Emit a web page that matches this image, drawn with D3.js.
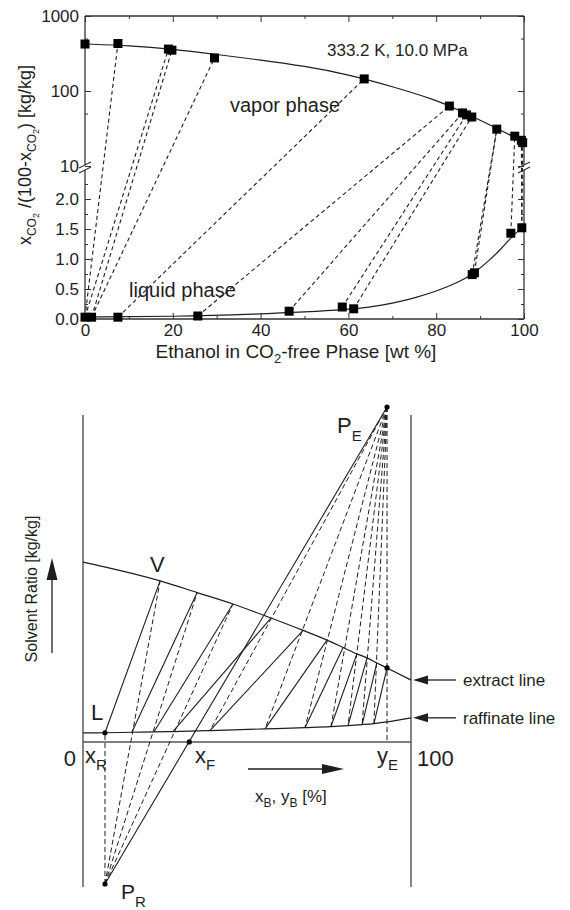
<!DOCTYPE html>
<html>
<head>
<meta charset="utf-8">
<script src="https://cdn.jsdelivr.net/npm/d3@7/dist/d3.min.js"></script>
<style>
body { margin: 0; background: #fff; }
svg { display: block; font-family: "Liberation Sans", Arial, sans-serif; }
</style>
</head>
<body>
<div id="chart"></div>
<script>
const width = 570;
const height = 910;

// ---------- top chart: 333.2 K, 10.0 MPa ----------
// measured points, ethanol wt% (CO2-free) vs x_CO2/(100-x_CO2)
const vaporX = [0, 7.5, 19.0, 19.8, 29.5, 63.6, 83.0, 86.0, 86.9, 88.1, 93.8, 97.9, 99.4, 99.7];
const vaporY = [423, 430, 362, 350, 276, 145, 63, 51, 48, 45, 31, 25, 22, 20.5];
const liquidX = [0, 1.5, 7.5, 25.7, 46.5, 58.6, 61.2, 88.2, 88.7, 97.0, 99.5];
const liquidY = [0.03, 0.03, 0.03, 0.05, 0.13, 0.20, 0.17, 0.74, 0.77, 1.43, 1.52];
// tie lines: liquid index -> vapor index
const tieLiq = [0, 0, 1, 1, 2, 3, 4, 5, 6, 7, 8, 9, 10, 10];
const tieVap = [1, 2, 3, 4, 5, 6, 7, 8, 9, 10, 10, 11, 12, 13];
// fitted phase boundaries
const vapCurveX = [0, 10, 20, 30, 40, 50, 60, 70, 80, 85, 90, 95, 100];
const vapCurveY = [423, 404, 363, 307, 259, 215, 166, 115, 76, 56, 41, 29.3, 20.9];
const liqCurveX = [0, 20, 40, 50, 60, 65, 70, 75, 80, 85, 88.4, 92, 95, 97, 100];
const liqCurveY = [0.033, 0.04, 0.083, 0.115, 0.16, 0.2, 0.26, 0.35, 0.46, 0.61, 0.75, 0.97, 1.18, 1.36, 1.55];

const xTicks = [0, 20, 40, 60, 80, 100];
const xMinor = [10, 30, 50, 70, 90];
const yLinTicks = [0, 0.5, 1.0, 1.5, 2.0];
const yLinMinor = [0.25, 0.75, 1.25, 1.75, 2.25];
const yLogTicks = [10, 100, 1000];
const yLogMinor = [50, 500];

// ---------- bottom chart: stage construction (schematic) ----------
const extractX = [0, 23.5, 34.8, 45.7, 57.3, 67.1, 74.4, 79.3, 83.5, 86.6, 89.6, 92.7, 100];
const extractY = [53.7, 48.1, 44.6, 41.2, 37.0, 33.3, 30.4, 28.2, 26.3, 25.1, 23.6, 22.1, 18.5];
const raffX = [0, 6.7, 14.9, 21.6, 27.4, 38.7, 55.5, 67.7, 75.6, 80.8, 85.1, 88.7, 100];
const raffY = [2.7, 2.75, 2.9, 3.0, 3.1, 3.4, 3.9, 4.3, 4.6, 4.9, 5.2, 5.5, 7.2];
const poleX = [6.7, 92.7];     // P_R, P_E
const poleY = [-42.4, 100];
const feedX = 32.4;
const tieIdx = [1, 2, 3, 4, 5, 6, 7, 8, 9, 10, 11];
const stripIdx = [1, 2, 3];            // P_R -> extract point
const enrichIdx = [5, 6, 7, 8, 9, 10, 11]; // P_E -> raffinate point

const svg = d3.select("#chart").append("svg").attr("width", width).attr("height", height);
svg.append("rect").attr("width", width).attr("height", height).attr("fill", "#fff");

const ink = "#1e1e1e";

// ===== top chart =====
const x1 = d3.scaleLinear().domain([0, 100]).range([85, 524]);
const yLog = d3.scaleLog().domain([10, 1000]).range([166, 16]);
const yLin = d3.scaleLinear().domain([0, 2.5]).range([319, 169]);
const y1 = v => v >= 10 ? yLog(v) : yLin(v);

const topG = svg.append("g");

function styleAxis(g, size) {
    g.select(".domain").remove();
    g.selectAll("line").attr("stroke", "#333").attr("stroke-width", 1);
    g.selectAll("text").attr("fill", ink).style("font-size", size + "px").style("font-family", "Liberation Sans, Arial, sans-serif");
}

topG.append("g").attr("transform", "translate(0,319)")
    .call(d3.axisBottom(x1).tickValues(xTicks).tickSize(-6).tickPadding(5))
    .call(g => styleAxis(g, 17));
topG.append("g").attr("transform", "translate(0,319)")
    .call(d3.axisBottom(x1).tickValues(xMinor).tickSize(-3).tickFormat(""))
    .call(g => styleAxis(g, 17));
topG.append("g").attr("transform", "translate(0,16)")
    .call(d3.axisTop(x1).tickValues(xTicks).tickSize(-6).tickFormat(""))
    .call(g => styleAxis(g, 17));
topG.append("g").attr("transform", "translate(0,16)")
    .call(d3.axisTop(x1).tickValues(xMinor).tickSize(-3).tickFormat(""))
    .call(g => styleAxis(g, 17));

[[d3.axisLeft, 85, true], [d3.axisRight, 524, false]].forEach(([ax, xp, lab]) => {
    topG.append("g").attr("transform", `translate(${xp},0)`)
        .call(ax(yLin).tickValues(yLinTicks).tickSize(-6).tickPadding(6).tickFormat(lab ? d3.format(".1f") : ""))
        .call(g => styleAxis(g, 17));
    topG.append("g").attr("transform", `translate(${xp},0)`)
        .call(ax(yLin).tickValues(yLinMinor).tickSize(-3).tickFormat(""))
        .call(g => styleAxis(g, 17));
    topG.append("g").attr("transform", `translate(${xp},0)`)
        .call(ax(yLog).tickValues(yLogTicks).tickSize(-6).tickPadding(6).tickFormat(lab ? d3.format("d") : ""))
        .call(g => styleAxis(g, 17));
    topG.append("g").attr("transform", `translate(${xp},0)`)
        .call(ax(yLog).tickValues(yLogMinor).tickSize(-3).tickFormat(""))
        .call(g => styleAxis(g, 17));
});

// frame with broken y axis
const frame = topG.append("g").attr("stroke", "#333").attr("stroke-width", 1.3).attr("fill", "none");
frame.append("line").attr("x1", 85).attr("x2", 524).attr("y1", 16).attr("y2", 16);
frame.append("line").attr("x1", 85).attr("x2", 524).attr("y1", 319).attr("y2", 319);
[85, 524].forEach(xp => {
    frame.append("line").attr("x1", xp).attr("x2", xp).attr("y1", 16).attr("y2", 165);
    frame.append("line").attr("x1", xp).attr("x2", xp).attr("y1", 170).attr("y2", 319);
    frame.append("line").attr("x1", xp - 6).attr("x2", xp + 6).attr("y1", 168).attr("y2", 162).attr("stroke-width", 1.1);
    frame.append("line").attr("x1", xp - 6).attr("x2", xp + 6).attr("y1", 173).attr("y2", 167).attr("stroke-width", 1.1);
});

// tie lines
topG.append("g").selectAll("line").data(tieLiq).join("line")
    .attr("x1", (d, i) => x1(liquidX[d])).attr("y1", (d, i) => y1(liquidY[d]))
    .attr("x2", (d, i) => x1(vaporX[tieVap[i]])).attr("y2", (d, i) => y1(vaporY[tieVap[i]]))
    .attr("stroke", ink).attr("stroke-width", 1.1).attr("stroke-dasharray", "4,3");

// phase boundaries
const lineTop = d3.line().x(d => x1(d[0])).y(d => y1(d[1])).curve(d3.curveBasis);
topG.append("path").attr("d", lineTop(d3.zip(vapCurveX, vapCurveY)))
    .attr("fill", "none").attr("stroke", ink).attr("stroke-width", 1.2);
topG.append("path").attr("d", lineTop(d3.zip(liqCurveX, liqCurveY)))
    .attr("fill", "none").attr("stroke", ink).attr("stroke-width", 1.2);

// markers
const sq = 9;
topG.append("g").selectAll("rect").data(d3.zip(vaporX, vaporY).concat(d3.zip(liquidX, liquidY))).join("rect")
    .attr("x", d => x1(d[0]) - sq / 2).attr("y", d => y1(d[1]) - sq / 2)
    .attr("width", sq).attr("height", sq).attr("fill", "#000");

// annotations
topG.append("text").attr("x", 327).attr("y", 56).text("333.2 K, 10.0 MPa")
    .attr("fill", ink).style("font-size", "17px");
topG.append("text").attr("x", 230).attr("y", 112).text("vapor phase")
    .attr("fill", ink).style("font-size", "20px");
topG.append("text").attr("x", 129).attr("y", 297).text("liquid phase")
    .attr("fill", ink).style("font-size", "20px");

// axis titles
const xt = topG.append("text").attr("x", 296).attr("y", 358).attr("text-anchor", "middle")
    .attr("fill", ink).style("font-size", "19px");
xt.append("tspan").text("Ethanol in CO");
xt.append("tspan").text("2").attr("dy", 5).style("font-size", "13px");
xt.append("tspan").text("-free Phase [wt %]").attr("dy", -5);

const yt = topG.append("text").attr("transform", "translate(31,155) rotate(-90)")
    .attr("text-anchor", "middle").attr("fill", ink).style("font-size", "18px");
yt.append("tspan").text("x");
yt.append("tspan").text("CO").attr("dy", 5).style("font-size", "12px");
yt.append("tspan").text("2").attr("dy", 3).style("font-size", "9px");
yt.append("tspan").text(" /(100-x").attr("dy", -8);
yt.append("tspan").text("CO").attr("dy", 5).style("font-size", "12px");
yt.append("tspan").text("2").attr("dy", 3).style("font-size", "9px");
yt.append("tspan").text(")  [kg/kg]").attr("dy", -8);

// ===== bottom chart =====
const x2 = d3.scaleLinear().domain([0, 100]).range([83, 411]);
const y2 = d3.scaleLinear().domain([-43, 100]).range([886, 407]);
const bot = svg.append("g");

// side lines and composition axis
bot.append("g").selectAll("line").data([0, 100]).join("line")
    .attr("x1", d => x2(d)).attr("x2", d => x2(d)).attr("y1", y2(97.6)).attr("y2", y2(-43.3))
    .attr("stroke", "#666").attr("stroke-width", 1.6);
bot.append("line").attr("x1", x2(0)).attr("x2", x2(100)).attr("y1", y2(0)).attr("y2", y2(0))
    .attr("stroke", "#555").attr("stroke-width", 1.4);

const lineBot = d3.line().x(d => x2(d[0])).y(d => y2(d[1])).curve(d3.curveMonotoneX);
bot.append("path").attr("d", lineBot(d3.zip(extractX, extractY)))
    .attr("fill", "none").attr("stroke", ink).attr("stroke-width", 1.2);
bot.append("path").attr("d", lineBot(d3.zip(raffX, raffY)))
    .attr("fill", "none").attr("stroke", ink).attr("stroke-width", 1.2);

const dashed = bot.append("g").attr("stroke", ink).attr("stroke-width", 1).attr("stroke-dasharray", "5,3");
// vertical lines from the poles
dashed.append("line").attr("x1", x2(poleX[0])).attr("y1", y2(poleY[0]))
    .attr("x2", x2(raffX[1])).attr("y2", y2(raffY[1]));
dashed.append("line").attr("x1", x2(poleX[1])).attr("y1", y2(poleY[1]))
    .attr("x2", x2(poleX[1])).attr("y2", y2(0));
dashed.selectAll(".strip").data(stripIdx).join("line").attr("class", "strip")
    .attr("x1", x2(poleX[0])).attr("y1", y2(poleY[0]))
    .attr("x2", d => x2(extractX[d])).attr("y2", d => y2(extractY[d]));
dashed.selectAll(".enrich").data(enrichIdx).join("line").attr("class", "enrich")
    .attr("x1", x2(poleX[1])).attr("y1", y2(poleY[1]))
    .attr("x2", d => x2(raffX[d])).attr("y2", d => y2(raffY[d]));

// equilibrium tie lines
bot.append("g").selectAll("line").data(tieIdx).join("line")
    .attr("x1", d => x2(raffX[d])).attr("y1", d => y2(raffY[d]))
    .attr("x2", d => x2(extractX[d])).attr("y2", d => y2(extractY[d]))
    .attr("stroke", ink).attr("stroke-width", 1.1);
// feed line P_R - x_F - P_E
bot.append("line").attr("x1", x2(poleX[0])).attr("y1", y2(poleY[0]))
    .attr("x2", x2(poleX[1])).attr("y2", y2(poleY[1]))
    .attr("stroke", ink).attr("stroke-width", 1.1);

// dots
const dots = [[poleX[0], poleY[0]], [poleX[1], poleY[1]], [raffX[1], raffY[1]], [feedX, 0], [extractX[11], extractY[11]]];
bot.append("g").selectAll("circle").data(dots).join("circle")
    .attr("cx", d => x2(d[0])).attr("cy", d => y2(d[1])).attr("r", 2.6).attr("fill", "#000");

function subLabel(x, y, main, sub, size, subSize, shift) {
    const t = bot.append("text").attr("x", x).attr("y", y).attr("fill", ink).style("font-size", size + "px");
    t.append("tspan").text(main);
    t.append("tspan").text(sub).attr("dy", shift).style("font-size", subSize + "px");
    return t;
}

bot.append("text").attr("x", x2(0) - 7).attr("y", 766).attr("text-anchor", "end").text("0")
    .attr("fill", ink).style("font-size", "22px");
bot.append("text").attr("x", x2(100) + 6).attr("y", 766).text("100")
    .attr("fill", ink).style("font-size", "22px");
subLabel(85, 763, "x", "R", 22, 15, 7);
subLabel(195, 763, "x", "F", 22, 15, 7);
subLabel(377, 763, "y", "E", 22, 15, 7);
subLabel(337, 433, "P", "E", 22, 15, 8);
subLabel(121, 899, "P", "R", 21, 15, 8);
bot.append("text").attr("x", 150).attr("y", 572).text("V").attr("fill", ink).style("font-size", "22px");
bot.append("text").attr("x", 91).attr("y", 720).text("L").attr("fill", ink).style("font-size", "22px");

const xb = bot.append("text").attr("x", 255).attr("y", 802).attr("fill", ink).style("font-size", "17px");
xb.append("tspan").text("x");
xb.append("tspan").text("B").attr("dy", 5).style("font-size", "12px");
xb.append("tspan").text(", y").attr("dy", -5);
xb.append("tspan").text("B").attr("dy", 5).style("font-size", "12px");
xb.append("tspan").text(" [%]").attr("dy", -5);

// arrows
function arrow(xa, ya, xb2, yb, head, half) {
    const ang = Math.atan2(yb - ya, xb2 - xa);
    const bx = xb2 - head * Math.cos(ang), by = yb - head * Math.sin(ang);
    bot.append("line").attr("x1", xa).attr("y1", ya).attr("x2", bx).attr("y2", by)
        .attr("stroke", ink).attr("stroke-width", 1.3);
    const px = -Math.sin(ang) * half, py = Math.cos(ang) * half;
    bot.append("path").attr("d", `M${xb2},${yb}L${bx + px},${by + py}L${bx - px},${by - py}Z`).attr("fill", ink);
}
arrow(248, 769, 344, 769, 22, 5);
arrow(52, 653, 52, 558, 22, 5.5);
arrow(456, y2(extractY[12]), 413, y2(extractY[12]), 15, 4.5);
arrow(456, y2(raffY[12]), 413, y2(raffY[12]), 15, 4.5);

bot.append("text").attr("x", 463).attr("y", y2(extractY[12]) + 6).text("extract line")
    .attr("fill", ink).style("font-size", "17px");
bot.append("text").attr("x", 463).attr("y", y2(raffY[12]) + 6).text("raffinate line")
    .attr("fill", ink).style("font-size", "17px");
bot.append("text").attr("transform", "translate(37,589) rotate(-90)").attr("text-anchor", "middle")
    .text("Solvent Ratio [kg/kg]").attr("fill", ink).style("font-size", "16px");
</script>
</body>
</html>
